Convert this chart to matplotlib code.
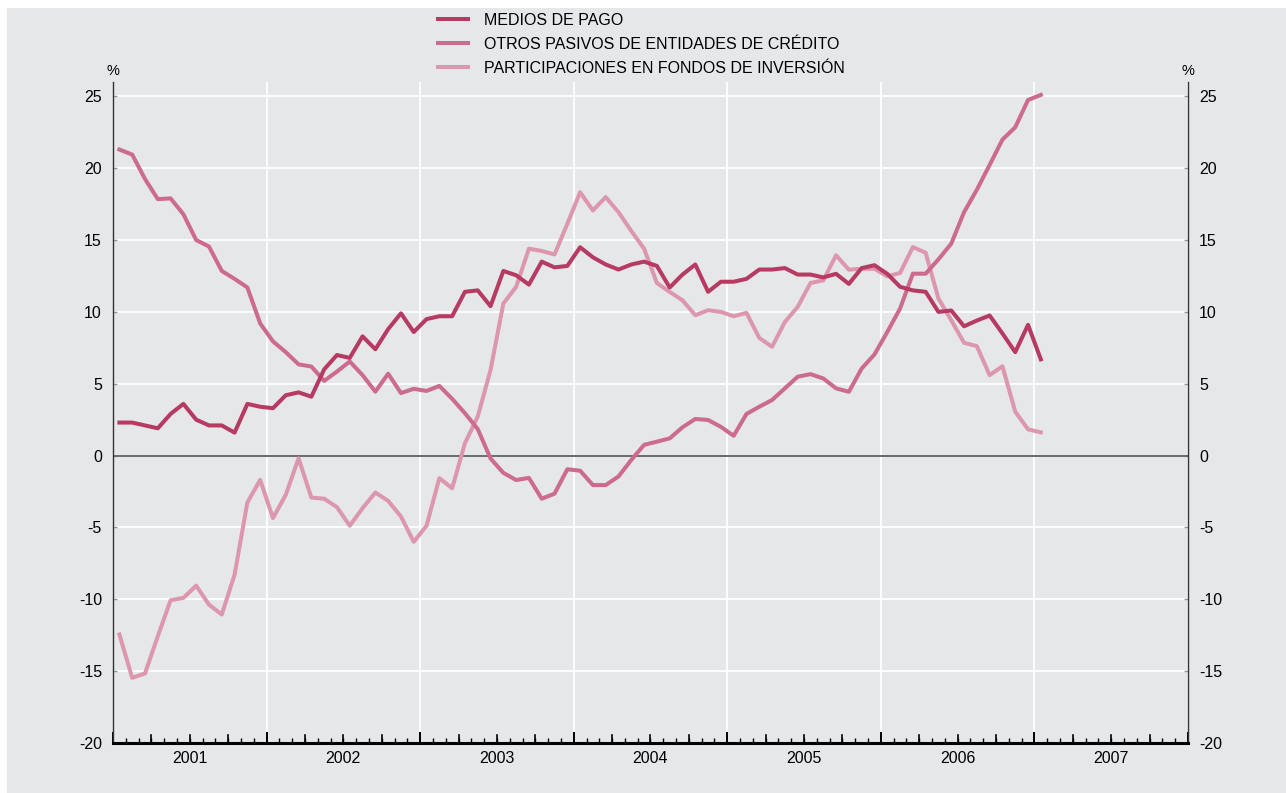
import numpy as np
import matplotlib
matplotlib.use("Agg")
import matplotlib.pyplot as plt
from matplotlib.patches import Rectangle
from matplotlib.ticker import FixedLocator, NullFormatter

plt.rcParams['font.family'] = ['Liberation Sans', 'DejaVu Sans']
plt.rcParams['axes.unicode_minus'] = False

# Tasas interanuales mensuales, enero 2001 - enero 2007 (%)
medios_pago = [2.3, 2.3, 2.1, 1.9, 2.9, 3.6, 2.5, 2.1, 2.1, 1.6,
               3.6, 3.4, 3.3, 4.2, 4.4, 4.1, 6.0, 7.0, 6.8, 8.3,
               7.4, 8.8, 9.9, 8.6, 9.5, 9.7, 9.7, 11.4, 11.5, 10.4,
               12.85, 12.55, 11.9, 13.5, 13.1, 13.2, 14.5, 13.8, 13.3, 12.95,
               13.3, 13.5, 13.2, 11.7, 12.6, 13.3, 11.4, 12.1, 12.1, 12.3,
               12.95, 12.95, 13.05, 12.6, 12.6, 12.4, 12.65, 11.95, 13.05, 13.25,
               12.65, 11.75, 11.5, 11.4, 10.0, 10.1, 9.0, 9.4, 9.75, 8.5,
               7.2, 9.1, 6.7]
otros_pasivos = [21.3, 20.95, 19.25, 17.85, 17.9, 16.8, 15.0, 14.55, 12.85, 12.3,
                 11.7, 9.2, 7.95, 7.2, 6.35, 6.2, 5.2, 5.85, 6.55, 5.6,
                 4.45, 5.7, 4.35, 4.65, 4.5, 4.85, 3.95, 2.95, 1.85, -0.2,
                 -1.2, -1.7, -1.55, -3.0, -2.65, -0.95, -1.05, -2.05, -2.05, -1.45,
                 -0.3, 0.75, 0.97, 1.2, 1.97, 2.55, 2.48, 2.0, 1.38, 2.9,
                 3.4, 3.87, 4.68, 5.49, 5.67, 5.37, 4.68, 4.44, 6.06, 7.04,
                 8.6, 10.23, 12.66, 12.66, 13.66, 14.75, 16.94, 18.5, 20.23, 21.99,
                 22.85, 24.75, 25.1]
participaciones = [-12.45, -15.46, -15.16, -12.57, -10.07, -9.9, -9.05, -10.37, -11.06, -8.29,
                   -3.26, -1.69, -4.35, -2.73, -0.19, -2.92, -3.0, -3.59, -4.88, -3.66,
                   -2.57, -3.15, -4.24, -6.0, -4.88, -1.57, -2.27, 0.86, 2.72, 5.95,
                   10.58, 11.74, 14.4, 14.24, 14.0, 16.13, 18.33, 17.06, 17.99, 16.94,
                   15.63, 14.4, 12.01, 11.39, 10.81, 9.77, 10.12, 10.0, 9.7, 9.93,
                   8.19, 7.57, 9.3, 10.35, 12.01, 12.2, 13.94, 12.94, 13.0, 13.0,
                   12.48, 12.71, 14.51, 14.12, 10.93, 9.42, 7.85, 7.62, 5.6, 6.22,
                   3.06, 1.83, 1.62]

etiquetas = ['MEDIOS DE PAGO',
             'OTROS PASIVOS DE ENTIDADES DE CRÉDITO',
             'PARTICIPACIONES EN FONDOS DE INVERSIÓN']
colores = ['#b73a62', '#cc6b8d', '#dc97ae']
anios = [2001, 2002, 2003, 2004, 2005, 2006, 2007]

# meses centrados dentro de cada año
x = 2001 + (np.arange(len(medios_pago)) + 0.5) / 12

fondo = '#e6e7e9'
fig = plt.figure(figsize=(12.86, 7.93), dpi=100, facecolor='white')
fig.patches.append(Rectangle((7 / 1286, 0), 1, 1 - 8 / 793, transform=fig.transFigure,
                             facecolor=fondo, edgecolor='none', zorder=-10))
ax = fig.add_axes([113 / 1286, 50 / 793, (1188 - 113) / 1286, (743 - 82) / 793])
ax.set_facecolor(fondo)

ax.set_xlim(2001, 2008)
ax.set_ylim(-20, 26)

# rejilla blanca
ax.set_yticks(np.arange(-20, 26, 5))
ax.set_yticklabels([str(v) for v in range(-20, 26, 5)])
ax.xaxis.set_major_locator(FixedLocator(np.arange(2001, 2009)))
ax.xaxis.set_major_formatter(NullFormatter())
ax.xaxis.set_minor_locator(FixedLocator([2001 + m / 12 for m in range(84) if m % 12]))
ax.grid(True, which='major', color='white', linewidth=1.3, zorder=1)
ax.set_axisbelow(True)
ax.axhline(0, color='#6b6b6b', linewidth=1.4, zorder=2)

lineas = []
for serie, lab, col, z in zip([medios_pago, otros_pasivos, participaciones],
                              etiquetas, colores, [5, 4, 3]):
    ln, = ax.plot(x, serie, color=col, linewidth=2.9, label=lab, zorder=z)
    lineas.append(ln)

# ejes
ax.spines['top'].set_visible(False)
for lado in ['left', 'right']:
    ax.spines[lado].set_color('#333333')
    ax.spines[lado].set_linewidth(1.0)
ax.spines['bottom'].set_color('black')
ax.spines['bottom'].set_linewidth(2.2)

ax.tick_params(axis='y', which='both', direction='in', length=3, width=1, color='#999999',
               left=True, right=True, labelleft=True, labelright=True,
               labelsize=11.5, pad=8)

ax.tick_params(axis='x', which='major', direction='in', length=8, width=1.4, color='black')
ax.tick_params(axis='x', which='minor', direction='in', length=3.5, width=1, color='black')

# marcas trimestrales intermedias
for a in range(2001, 2008):
    for q in (3, 6, 9):
        ax.plot([a + q / 12] * 2, [0, 0.012], transform=ax.get_xaxis_transform(),
                color='black', linewidth=1.2, clip_on=False, zorder=6)

# años centrados entre marcas
for a in anios:
    ax.text(a + 0.5, -0.012, str(a), transform=ax.get_xaxis_transform(),
            ha='center', va='top', fontsize=11.5)

fig.text(113 / 1286, 1 - 71 / 793, '%', ha='center', va='center', fontsize=10.5)
fig.text(1188 / 1286, 1 - 71 / 793, '%', ha='center', va='center', fontsize=10.5)

fig.legend(handles=lineas, labels=etiquetas, loc='upper left',
           bbox_to_anchor=(438 / 1286, 1 - 13 / 793), frameon=False,
           fontsize=11.5, handlelength=1.85, handletextpad=1.05, labelspacing=0.56,
           borderpad=0, borderaxespad=0)

fig.savefig('out.png', dpi=100, facecolor='white')
